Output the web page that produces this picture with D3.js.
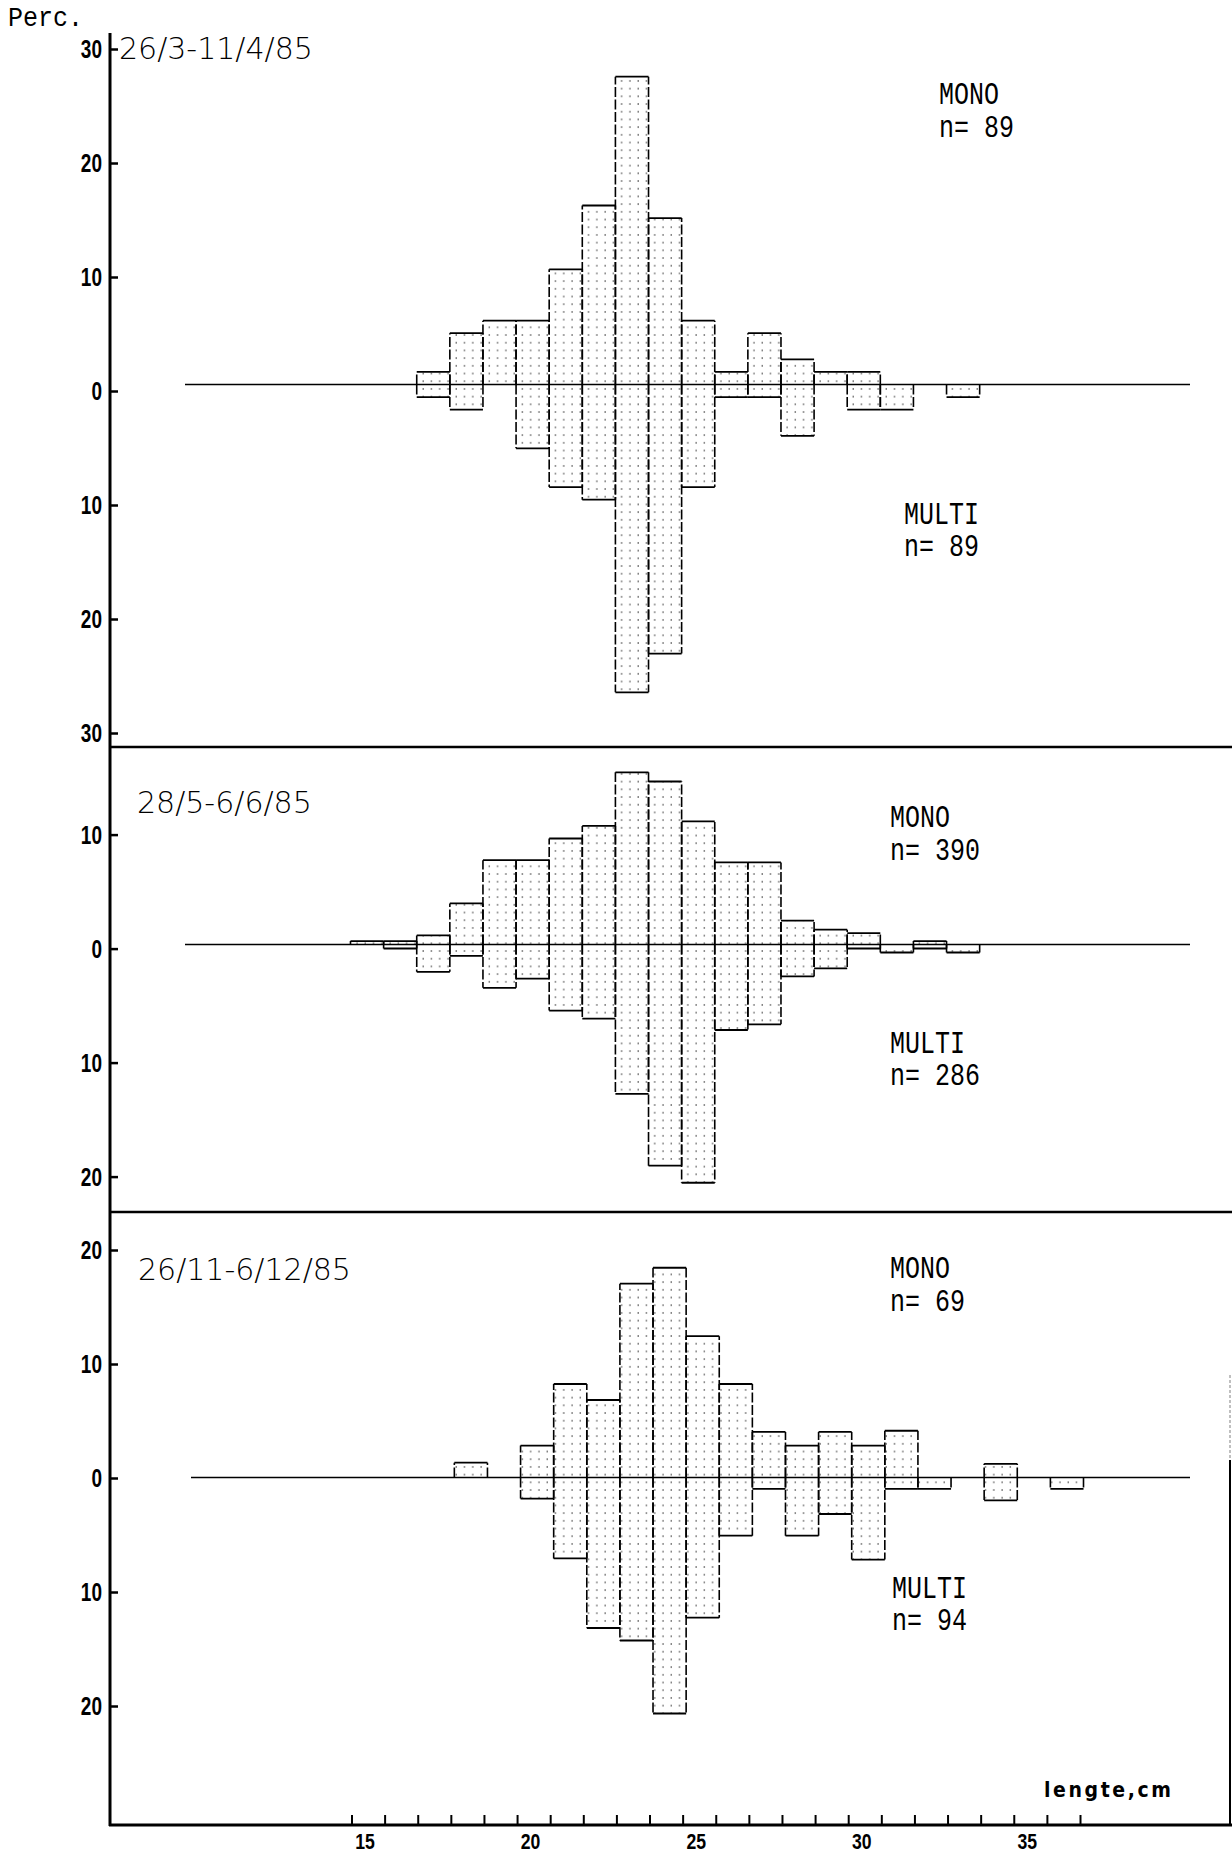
<!DOCTYPE html>
<html><head><meta charset="utf-8">
<script src="https://cdn.jsdelivr.net/npm/d3@7"></script>
<style>
body{margin:0;background:#fff}
svg{display:block}
</style></head><body>
<svg id="chart" width="1232" height="1853"></svg>
<script>
// ---------- DATA ----------
const lengthClasses = d3.range(15, 37);          // length classes 15..36 cm
const binEdges = d3.range(14.5, 37, 1);          // tick marks at class edges
const xLabelValues = [15, 20, 25, 30, 35];
const panelTitles = ["26/3-11/4/85", "28/5-6/6/85", "26/11-6/12/85"];
const monoN  = [89, 390, 69];
const multiN = [89, 286, 94];
const yTicks1 = [30, 20, 10, 0, -10, -20, -30];
const yTicks2 = [10, 0, -10, -20];
const yTicks3 = [20, 10, 0, -10, -20];

// percentages per length class (15..36)
const p1Mono  = [0,0,1.1,4.5,5.6,5.6,10.1,15.7,27.0,14.6,5.6,1.1,4.5,2.2,1.1,1.1,0,0,0,0,0,0];
const p1Multi = [0,0,1.1,2.2,0,5.6,9.0,10.1,27.0,23.6,9.0,1.1,1.1,4.5,0,2.2,2.2,0,1.1,0,0,0];
const p2Mono  = [0.3,0.3,0.8,3.6,7.4,7.4,9.3,10.4,15.1,14.3,10.8,7.2,7.2,2.1,1.3,1.0,0,0.3,0,0,0,0];
const p2Multi = [0,0.35,2.4,1.0,3.8,3.0,5.8,6.5,13.1,19.4,20.9,7.5,7.0,2.8,2.1,0.35,0.7,0.35,0.7,0,0,0];
const p3Mono  = [0,0,0,1.3,0,2.8,8.2,6.8,17.0,18.4,12.4,8.2,4.0,2.8,4.0,2.8,4.1,0,0,1.2,0,0];
const p3Multi = [0,0,0,0,0,1.85,7.1,13.2,14.3,20.7,12.3,5.1,1.0,5.1,3.2,7.2,1.0,1.0,0,2.0,0,1.0];

// ---------- LAYOUT ----------
const svg = d3.select("#chart");
const W = 1232, axisX = 110, bottomY = 1825;
const pxPer10 = 114;
const x = d3.scaleLinear().domain([14.5, 36.5]).range([351.5, 1080]);
const boldNarrow = "'Liberation Sans','Arial',sans-serif";

const panels = [
  {mono:p1Mono, multi:p1Multi, ticks:yTicks1, base:384.5, tickZero:391, xShift:-1, line:[185,1190],
   title:[119,59], monoPos:[939,104], multiPos:[904,524]},
  {mono:p2Mono, multi:p2Multi, ticks:yTicks2, base:944.5, tickZero:948.6, xShift:-1, line:[185,1190],
   title:[137,813], monoPos:[890,827], multiPos:[890,1053]},
  {mono:p3Mono, multi:p3Multi, ticks:yTicks3, base:1477.5, tickZero:1478, xShift:3.5, line:[191,1190],
   title:[138,1280], monoPos:[890,1278], multiPos:[892,1598]}
];

// dotted fill pattern
const defs = svg.append("defs");
const pat = defs.append("pattern").attr("id","dots").attr("patternUnits","userSpaceOnUse")
  .attr("x", 355).attr("y", 2).attr("width", 8.27).attr("height", 7.7);
pat.append("circle").attr("cx",2).attr("cy",2).attr("r",0.75).attr("fill","#222");

panels.forEach((p, i) => {
  const y = d3.scaleLinear().domain([0, 10]).range([p.base, p.base - pxPer10]);
  const yt = d3.scaleLinear().domain([0, 10]).range([p.tickZero, p.tickZero - pxPer10]);
  const g = svg.append("g");
  const bars = [];
  lengthClasses.forEach((c, k) => {
    if (p.mono[k] > 0) bars.push({c, v: p.mono[k]});
    if (p.multi[k] > 0) bars.push({c, v: -p.multi[k]});
  });
  const bx0 = d => x(d.c - 0.5) + p.xShift;
  const bx1 = d => x(d.c + 0.5) + p.xShift;
  // fills
  g.selectAll("rect.bar").data(bars).join("rect").attr("class","bar")
    .attr("x", bx0).attr("width", d => bx1(d) - bx0(d))
    .attr("y", d => Math.min(y(d.v), y(0))).attr("height", d => Math.abs(y(d.v) - y(0)))
    .attr("fill","url(#dots)");
  // baseline
  g.append("line").attr("x1", p.line[0]).attr("x2", p.line[1])
    .attr("y1", y(0)).attr("y2", y(0)).attr("stroke","#000").attr("stroke-width",1.6);
  // dashed sides
  g.selectAll("path.side").data(bars).join("path").attr("class","side")
    .attr("d", d => `M${bx0(d)},${y(0)}V${y(d.v)}M${bx1(d)},${y(0)}V${y(d.v)}`)
    .attr("fill","none").attr("stroke","#000").attr("stroke-width",1.6)
    .attr("stroke-dasharray","10,2.5");
  // solid ends
  g.selectAll("line.end").data(bars).join("line").attr("class","end")
    .attr("x1", bx0).attr("x2", bx1).attr("y1", d => y(d.v)).attr("y2", d => y(d.v))
    .attr("stroke","#000").attr("stroke-width",1.8);

  // y axis ticks
  const ax = d3.axisLeft(yt).tickValues(p.ticks).tickSize(-8).tickPadding(8)
    .tickFormat(d => Math.abs(d));
  const ag = svg.append("g").attr("transform", `translate(${axisX},0)`).call(ax);
  ag.select(".domain").remove();
  ag.selectAll(".tick line").attr("stroke","#000").attr("stroke-width",2.5);
  ag.selectAll(".tick text").attr("fill","#000").attr("x", null).attr("dy", null)
    .attr("transform", "translate(-8,8.5) scale(0.76,1)")
    .style("font-family", boldNarrow).style("font-weight","bold").style("font-size","25px");

  // title
  svg.append("text").attr("x", p.title[0]).attr("y", p.title[1]).text(panelTitles[i])
    .style("font-family","'DejaVu Sans',sans-serif").style("font-weight","200")
    .style("font-size","30px").attr("fill","#000");

  // MONO / MULTI labels
  const mono = (tx, ty, s) => svg.append("text")
    .attr("transform", `translate(${tx},${ty}) scale(1,1.22)`).text(s)
    .style("font-family","'Liberation Mono',monospace").style("font-size","25px").attr("fill","#000");
  mono(p.monoPos[0], p.monoPos[1], "MONO");
  mono(p.monoPos[0], p.monoPos[1] + 33, "n= " + monoN[i]);
  mono(p.multiPos[0], p.multiPos[1], "MULTI");
  mono(p.multiPos[0], p.multiPos[1] + 32, "n= " + multiN[i]);
});

// frame lines
svg.append("line").attr("x1", axisX).attr("x2", axisX).attr("y1", 33).attr("y2", bottomY + 1)
  .attr("stroke","#000").attr("stroke-width",3);
[747, 1212].forEach(yy => svg.append("line").attr("x1", axisX).attr("x2", W).attr("y1", yy).attr("y2", yy)
  .attr("stroke","#000").attr("stroke-width",2.5));
svg.append("line").attr("x1", 1230).attr("x2", 1230).attr("y1", 1375).attr("y2", 1460)
  .attr("stroke","#aaa").attr("stroke-width",1.5).attr("stroke-dasharray","3,2");
svg.append("line").attr("x1", 1230).attr("x2", 1230).attr("y1", 1460).attr("y2", bottomY)
  .attr("stroke","#000").attr("stroke-width",2);

// bottom x axis
const xa = d3.axisBottom(x).tickValues(binEdges).tickSize(-10).tickFormat("");
const xg = svg.append("g").attr("transform", `translate(0,${bottomY})`).call(xa);
xg.select(".domain").remove();
xg.selectAll(".tick line").attr("stroke","#000").attr("stroke-width",2);
svg.append("line").attr("x1", axisX - 1).attr("x2", W).attr("y1", bottomY).attr("y2", bottomY)
  .attr("stroke","#000").attr("stroke-width",3);
svg.selectAll("text.xl").data(xLabelValues).join("text").attr("class","xl")
  .attr("transform", d => `translate(${x(d) - 3},1849) scale(0.8,1)`).attr("text-anchor","middle").text(d => d)
  .style("font-family", boldNarrow).style("font-weight","bold").style("font-size","22px");

svg.append("text").attr("x", 1044).attr("y", 1797).text("lengte,cm")
  .style("font-family","'Liberation Sans Narrow','DejaVu Sans Condensed',sans-serif")
  .style("font-weight","bold").style("font-size","21px").style("letter-spacing","2.6px");

svg.append("text").attr("transform", "translate(8,26) scale(1,1.13)").text("Perc.")
  .style("font-family","'Liberation Mono',monospace").style("font-size","25px");
</script>
</body></html>
